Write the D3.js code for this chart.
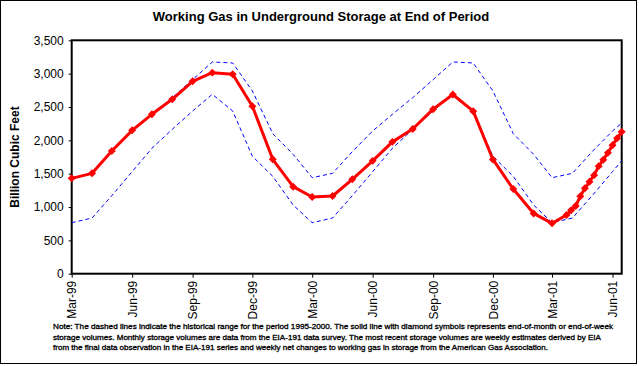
<!DOCTYPE html>
<html><head><meta charset="utf-8">
<script src="https://cdn.jsdelivr.net/npm/d3@7"></script>
<style>
html,body{margin:0;padding:0;background:#fff;}
svg{display:block;font-family:Arial,"Liberation Sans",sans-serif;}
</style></head>
<body><svg id="c" width="639" height="366"></svg>
<script>
// ---- data ----
const tickLabels = ["Mar-99","Jun-99","Sep-99","Dec-99","Mar-00","Jun-00","Sep-00","Dec-00","Mar-01","Jun-01"];
const yTicks = [0,500,1000,1500,2000,2500,3000,3500];

const histMonths = ["Mar-99","Apr-99","May-99","Jun-99","Jul-99","Aug-99","Sep-99","Oct-99","Nov-99","Dec-99",
  "Jan-00","Feb-00","Mar-00","Apr-00","May-00","Jun-00","Jul-00","Aug-00","Sep-00","Oct-00","Nov-00","Dec-00",
  "Jan-01","Feb-01","Mar-01","Apr-01","May-01","Jun-01","Jul-01"];
const histUpper = [1440,1505,1830,2140,2390,2640,2910,3175,3160,2740,
  2100,1790,1440,1505,1830,2140,2390,2640,2910,3175,3160,2740,
  2100,1790,1440,1505,1830,2140,2390];
const histLower = [765,835,1170,1530,1880,2165,2440,2690,2440,1760,
  1460,1030,765,835,1170,1530,1880,2165,2440,2690,2440,1760,
  1460,1030,765,835,1170,1530,1880];

const monthlyDates = ["Mar-99","Apr-99","May-99","Jun-99","Jul-99","Aug-99","Sep-99","Oct-99","Nov-99","Dec-99",
  "Jan-00","Feb-00","Mar-00","Apr-00","May-00","Jun-00","Jul-00","Aug-00","Sep-00","Oct-00","Nov-00","Dec-00",
  "Jan-01","Feb-01","Mar-01"];
const monthlyValues = [1430,1505,1840,2150,2390,2615,2885,3015,2990,2510,
  1715,1305,1150,1165,1415,1692,1977,2170,2467,2687,2437,1713,
  1269,904,755];

const weeklyDates = ["2001-03-23","2001-03-30","2001-04-06","2001-04-13","2001-04-20","2001-04-27",
  "2001-05-04","2001-05-11","2001-05-18","2001-05-25","2001-06-01","2001-06-08","2001-06-15"];
const weeklyValues = [880,950,1015,1160,1280,1380,1478,1613,1710,1812,1927,2030,2127];

const noteLines = [
  "Note: The dashed lines indicate the historical range for the period 1995-2000.  The solid line with diamond symbols represents end-of-month or end-of-week",
  "storage volumes.  Monthly storage volumes are data from the EIA-191 data survey.  The most recent storage volumes are weekly estimates derived by EIA",
  "from the final data observation in the EIA-191 series and weekly net changes to working gas in storage from the American Gas Association."
];

// ---- build ----
const pm = d3.timeParse("%b-%y");
const pw = d3.timeParse("%Y-%m-%d");
const svg = d3.select("#c");
const L = 71.7, R = 621.7, T = 40.3, B = 273.7;

const x = d3.scaleTime().domain([pm("Mar-99"), pw("2001-06-15")]).range([L, R]);
const y = d3.scaleLinear().domain([0, 3500]).range([B, T]);

// outer border
svg.append("rect").attr("x",0.5).attr("y",0.5).attr("width",636).attr("height",363)
  .attr("fill","#fff").attr("stroke","#000").attr("stroke-width",1);

// title
svg.append("text").attr("x",321).attr("y",21).attr("text-anchor","middle")
  .attr("font-size",13).attr("font-weight","bold").text("Working Gas in Underground Storage at End of Period");

// y axis title
svg.append("text").attr("transform","translate(19,157) rotate(-90)").attr("text-anchor","middle")
  .attr("font-size",12).attr("font-weight","bold").text("Billion Cubic Feet");

// clip
svg.append("clipPath").attr("id","clip").append("rect")
  .attr("x",L).attr("y",T-10).attr("width",R-L).attr("height",B-T+10);

// y axis
const yAxis = d3.axisLeft(y).tickValues(yTicks).tickSize(3).tickPadding(5).tickFormat(d3.format(","));
const gy = svg.append("g").attr("transform",`translate(${L},0)`).call(yAxis);
gy.select(".domain").remove();
gy.selectAll("text").attr("font-size",12).attr("font-family",'Arial,"Liberation Sans",sans-serif').attr("fill","#000");
gy.selectAll("line").attr("stroke","#000");

// x axis
const tickDates = tickLabels.map(pm);
const xAxis = d3.axisBottom(x).tickValues(tickDates).tickSize(4).tickFormat(d3.timeFormat("%b-%y"));
const gx = svg.append("g").attr("transform",`translate(0,${B})`).call(xAxis);
gx.select(".domain").remove();
gx.selectAll("line").attr("stroke","#000");
gx.selectAll("text").attr("font-size",12).attr("font-family",'Arial,"Liberation Sans",sans-serif').attr("fill","#000")
  .attr("text-anchor","end").attr("transform","rotate(-90)")
  .attr("x",-7).attr("y",0).attr("dy","0.35em");

// frame
svg.append("rect").attr("x",L).attr("y",T).attr("width",R-L).attr("height",B-T)
  .attr("fill","none").attr("stroke","#000").attr("stroke-width",2);

// historical range
const hist = histMonths.map((m,i)=>({d:pm(m), u:histUpper[i], l:histLower[i]}));
const plot = svg.append("g").attr("clip-path","url(#clip)");
plot.append("path").datum(hist).attr("fill","none").attr("stroke","#0000ff").attr("stroke-width",1)
  .attr("stroke-dasharray","4,3").attr("d", d3.line().x(d=>x(d.d)).y(d=>y(d.u)));
plot.append("path").datum(hist).attr("fill","none").attr("stroke","#0000ff").attr("stroke-width",1)
  .attr("stroke-dasharray","4,3").attr("d", d3.line().x(d=>x(d.d)).y(d=>y(d.l)));

// storage series
const series = monthlyDates.map((m,i)=>({d:pm(m), v:monthlyValues[i]}))
  .concat(weeklyDates.map((w,i)=>({d:pw(w), v:weeklyValues[i]})));
svg.append("path").datum(series).attr("fill","none").attr("stroke","#ff0000").attr("stroke-width",3)
  .attr("stroke-linejoin","round").attr("d", d3.line().x(d=>x(d.d)).y(d=>y(d.v)));

const squareDiamond = { draw(ctx, size){ const h=Math.sqrt(size)/2*1.2; ctx.moveTo(0,-h); ctx.lineTo(h,0); ctx.lineTo(0,h); ctx.lineTo(-h,0); ctx.closePath(); } };
svg.append("g").selectAll("path").data(series).join("path")
  .attr("transform", d=>`translate(${x(d.d)},${y(d.v)})`)
  .attr("d", d3.symbol().type(squareDiamond).size(44))
  .attr("fill","#ff0000");

// note
const lens = [560, 548, 495];
svg.append("g").selectAll("text").data(noteLines).join("text")
  .attr("x",53).attr("y",(d,i)=>329+i*10.7)
  .attr("font-size",7.4).attr("font-weight","normal")
  .attr("stroke","#000").attr("stroke-width",0.3)
  .attr("textLength",(d,i)=>lens[i]).attr("lengthAdjust","spacingAndGlyphs")
  .text(d=>d);
</script></body></html>
